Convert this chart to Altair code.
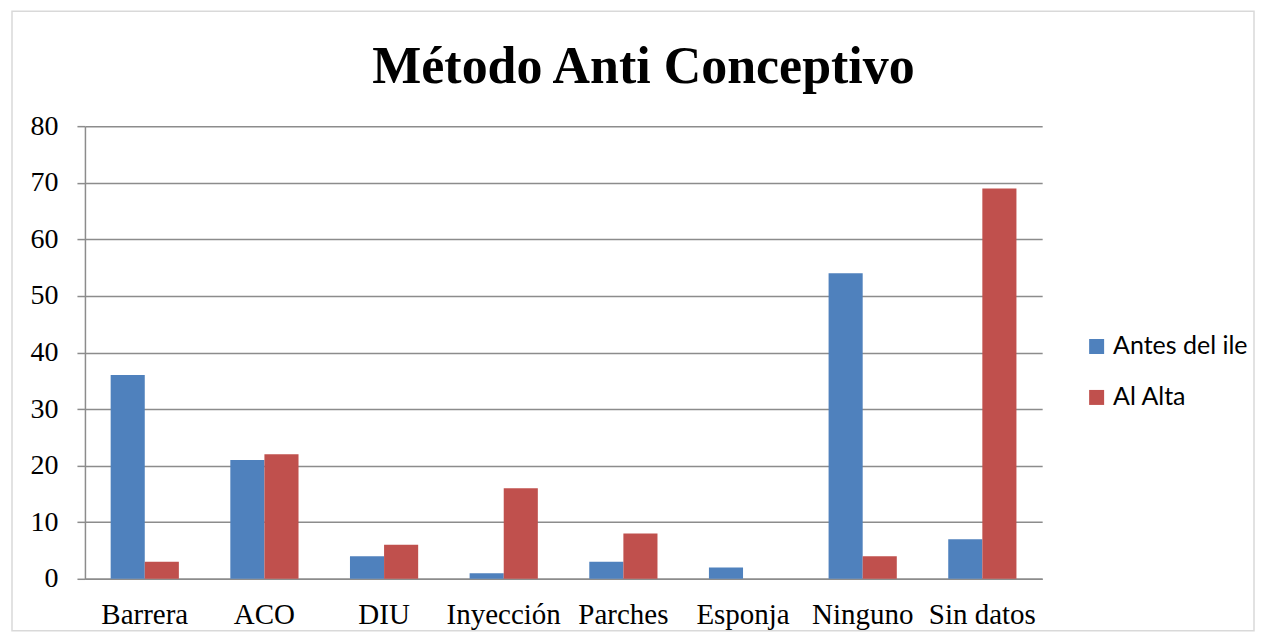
import altair as alt
import pandas as pd

categories = ["Barrera", "ACO", "DIU", "Inyección", "Parches", "Esponja", "Ninguno", "Sin datos"]
antes_del_ile = [36, 21, 4, 1, 3, 2, 54, 7]
al_alta = [3, 22, 6, 16, 8, 0, 4, 69]
series_names = ["Antes del ile", "Al Alta"]
series_colors = ["#4F81BD", "#C0504D"]
y_ticks = [0, 10, 20, 30, 40, 50, 60, 70, 80]

rows = []
for c, a, b in zip(categories, antes_del_ile, al_alta):
    rows.append({"cat": c, "serie": series_names[0], "valor": a})
    rows.append({"cat": c, "serie": series_names[1], "valor": b})
df = pd.DataFrame(rows)

W, H = 958, 453
SERIF = "Liberation Serif"

bars = alt.Chart(df).mark_bar().encode(
    x=alt.X("cat:N", sort=categories, title=None,
            scale=alt.Scale(paddingInner=0.43, paddingOuter=0.215),
            axis=alt.Axis(labelAngle=0, labelFont=SERIF, labelFontSize=29, labelColor="#000000",
                          ticks=False, domainColor="#8C8C8C", domainWidth=1.5,
                          labelPadding=22, grid=False)),
    xOffset=alt.XOffset("serie:N", sort=series_names),
    y=alt.Y("valor:Q", title=None,
            scale=alt.Scale(domain=[0, 80], nice=False),
            axis=alt.Axis(values=y_ticks, labelFont=SERIF, labelFontSize=28, labelColor="#000000",
                          tickSize=8, tickColor="#8C8C8C", tickWidth=1.5,
                          domainColor="#8C8C8C", domainWidth=1.5,
                          gridColor="#8C8C8C", gridWidth=1.5, labelPadding=19)),
    color=alt.Color("serie:N", sort=series_names,
                    scale=alt.Scale(domain=series_names, range=series_colors),
                    legend=alt.Legend(title=None, orient="none", legendX=1000, legendY=208,
                                      symbolType="square", symbolSize=225, symbolStrokeWidth=0,
                                      labelFont="Lato", labelFontSize=25, labelColor="#000000",
                                      labelOffset=4, rowPadding=25, padding=0)),
)

frame = alt.Chart(pd.DataFrame({"k": [0]})).mark_rect(
    fill=None, stroke="#D9D9D9", strokeWidth=1.5
).encode(
    x=alt.value(-73), x2=alt.value(1170), y=alt.value(-115), y2=alt.value(505)
)

chart = alt.layer(frame, bars).properties(
    width=W, height=H,
    padding={"left": 3, "top": 2, "right": 0, "bottom": 0},
    title=alt.TitleParams("Método Anti Conceptivo", font=SERIF, fontSize=52, fontWeight="bold",
                          color="#000000", anchor="middle", dx=80, offset=-84),
).configure_view(stroke=None).configure_axis(gridDash=[])

chart.save("out.html", embed_options={"renderer": "svg", "actions": False})
